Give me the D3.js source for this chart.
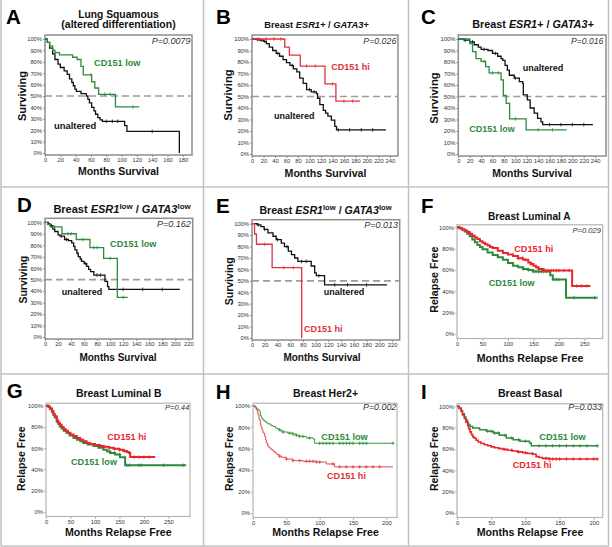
<!DOCTYPE html>
<html><head><meta charset="utf-8">
<script src="https://cdn.jsdelivr.net/npm/d3@7"></script>
<style>body{margin:0;background:#fff}svg{display:block}</style>
</head><body><svg id="c" width="612" height="547"></svg>
<script>
// ---------- DATA (Kaplan-Meier step points: [months, % surviving]) ----------
const lungUnaltered = [[0,100],[3,97],[6,92],[10,87],[13,82],[17,78],[20,75],[25,72],[29,69],[32,65],[35,62],[37,59],[39,56],[41,54],[47,52],[54,50],[56,47],[58,44],[61,40],[64,37],[66,34],[69,31],[72,29],[75,27.8],[104,24],[107,19],[175.5,0]];
const lungUnalteredCens = [80,88,95,140];
const lungLow = [[0,100],[3,97],[6,94],[10,90],[13,88],[19,86],[36,84],[42,82],[47,76],[50,68.5],[61,62.5],[65,57],[70,51.5],[92,40.5],[123,40.5]];
const lungLowCens = [60,78,85,115];

const erPosUnaltB = [[0,100],[8,99.5],[13,99],[20,98],[25,96],[30,93],[36,90],[42,87.5],[48,85],[54,82],[60,79.5],[66,77],[72,74],[78,71.5],[83,66],[89,61.5],[95,56],[103,54],[112,52.5],[114,48.5],[118,43],[124,38],[128,35.5],[132,33],[138,29.5],[144,24],[147,21],[233,21]];
const erPosUnaltBCens = [10,16,22,45,70,100,108,150,170,190,210];
const erPosHi = [[0,100],[57,93],[65,86],[84,76.5],[127,61],[146,46],[188,46]];
const erPosHiCens = [12,25,38,50,95,110,140,160,175];

const erPosUnaltC = [[0,100],[10,99],[20,97.5],[28,95],[35,93],[40,91],[52,90],[60,87.5],[69,85],[75,83],[78,81.5],[82,77],[86,73],[89.5,68.5],[98,66],[107,63],[113,61.5],[114,51.5],[121,47],[126,40],[133,35.5],[139,31],[145,28],[148,25.5],[236,25.5]];
const erPosUnaltCCens = [12,25,45,65,100,160,180,200,220];
const erPosLow = [[0,100],[20,96],[25,89],[31,83],[40,80.5],[48,76],[54,70.5],[75,64.5],[79,51],[84,44],[90,30.5],[119,21],[190,21]];
const erPosLowCens = [45,60,70,100,140,165];

const erLowUnaltD = [[0,100],[5,98.5],[8,97],[12,94],[15,92],[20,89],[23,88],[30,85],[36,84],[41,82],[44,79],[46,76],[49,73],[51,70],[54,68],[56,66],[60,64],[64,61.5],[67,59],[70,57],[75,54],[92,48.5],[96,44],[98,41.5],[207,41.5]];
const erLowUnaltDCens = [10,25,33,62,80,85,120,150,180];
const erLowLow = [[0,100],[4,98],[8,96],[26,90],[48,85],[69,78],[90,68.5],[111,34.5],[127,34.5]];
const erLowLowCens = [15,35,40,58,75,80,100,120];

const erLowUnaltE = [[0,100],[8,99],[14,97.5],[19,95],[25,92],[33,89],[38,86],[46,83],[51,80],[57,76],[62,73],[67,70],[72,67],[93,63],[98.5,57],[101,54.5],[114,46.5],[212,46.5]];
const erLowUnaltECens = [10,20,40,55,78,85,105,130,150,180];
const erLowHi = [[0,100],[4,91],[7,82],[31.6,61.5],[78,0]];
const erLowHiCens = [20,50,65];

const lumAHi = [[0,100],[5,99],[10,98],[15,97],[20,95.5],[25,94],[30,92],[35,90.5],[40,89],[45,87],[50,85.5],[55,84],[60,83],[65,81.5],[70,80.5],[80,78],[90,76],[100,74.5],[110,73],[120,71],[130,69.5],[140,67],[145,65.5],[150,64],[155,62.5],[160,61],[170,59.5],[226,45],[262,45]];
const lumAHiCens = [120,128,135,145,160,170,175,180,185,190,195,200,210,220,235,245,255];
const lumALow = [[0,100],[5,99],[10,98],[15,96],[20,94],[25,91.5],[30,88.5],[35,86],[40,83.5],[45,81.5],[50,79.5],[60,76.5],[70,74],[80,72],[90,69.5],[100,66.5],[110,64],[120,62.5],[130,61],[140,60],[150,58.5],[183,55],[188,51],[214,34],[276,34]];
const lumALowCens = [130,140,150,155,160,165,170,175,190,195,200,230,270];

const lumBHi = [[0,100],[5,99],[8,97.5],[12,95],[15,92],[18,90],[22,86],[25,84],[28,82],[32,80],[36,78],[40,76.5],[45,74.5],[50,73],[56,71.5],[63,69.5],[70,68],[76,66.5],[83,65],[90,64],[100,63],[110,62],[117,61.5],[128,60.5],[138,59.5],[150,58.5],[158,57.5],[165,56.5],[170,55.5],[172,51.7],[223,51.7]];
const lumBHiCens = [110,120,130,140,150,160,170,180,190,200,210];
const lumBLow = [[0,100],[5,99],[8,97],[12,94],[15,91.5],[18,89],[22,85],[25,83],[28,80.5],[32,78.5],[36,76.5],[42,74.3],[48,72],[56,69.6],[63,68],[70,66.5],[76,65],[85,63.5],[97,62],[107,60.5],[117,58.6],[125,57],[131,55.5],[141,54],[151,51.5],[161.6,44],[286,44]];
const lumBLowCens = [130,140,150,165,170,190,195,240,280];

const her2Low = [[0,100],[3,99],[5,97],[8,96],[10,94.5],[11,91],[12.5,88.5],[15,86.5],[17.5,85.4],[20,84],[22.5,83],[27,81.5],[30,80.7],[34,79],[37.5,77.6],[41,76.5],[45,75.5],[52,74.5],[60,73.6],[65,72.5],[70,71.4],[80,70],[90,69],[92.5,65],[210,65]];
const her2LowCens = [40,45,55,60,65,70,75,85,100,105,110,115,120,130,135,140,145,150,160,165,170,210];
const her2Hi = [[0,100],[3,98],[5,96.3],[6.5,94],[7.5,91.6],[9,87],[11,82.3],[12,80],[13.5,77.6],[15,74.5],[17.5,71.4],[19,68],[20,65.2],[22,62.5],[24,60.6],[27,59],[30,57.5],[33,56],[36,54.4],[39,53],[42.5,51.9],[50,50.3],[60,48.8],[75,48.2],[95,47.5],[110,45.7],[122.5,43],[210,43]];
const her2HiCens = [40,50,60,70,80,85,90,95,100,120,130,140,150,160,170,180,190];

const basalLow = [[0,100],[3,98.5],[6,96],[8,93],[10.7,90],[13,87],[15.6,84],[17,82.5],[19,81],[23,79.6],[33,78],[43,76.6],[53,75],[62,72.8],[72,70.3],[82,68.7],[92,67.2],[106,65.6],[108.6,63],[206,63]];
const basalLowCens = [45,50,55,60,70,80,90,100,120,130,140,150,160,170,180,190,205];
const basalHi = [[0,100],[3,98],[6,95.3],[8,92],[10.7,88.5],[13,85],[15.6,82],[17,79],[19,76],[21,73.5],[23,71.4],[25,70],[28,68.2],[31,66.5],[35,65.2],[40,64],[45,63],[50,62],[55,61.2],[61,60.3],[67,59.6],[74,58.8],[81,58.1],[88,57.3],[96,56.5],[103,55.7],[111,55],[115.6,52.8],[120,52],[125,51.2],[135,50.6],[206,50.6]];
const basalHiCens = [70,80,90,100,110,130,135,140,145,150,160,170,180,190,200,205];

// tick labels
const yTicks10 = [0,10,20,30,40,50,60,70,80,90,100];
const yTicks20 = [0,20,40,60,80,100];
const xTicks180 = [0,20,40,60,80,100,120,140,160,180];
const xTicks240 = [0,20,40,60,80,100,120,140,160,180,200,220,240];
const xTicks220 = [0,20,40,60,80,100,120,140,160,180,200,220];
const xTicks250 = [0,50,100,150,200,250];
const xTicks200 = [0,50,100,150,200];

// ---------- DRAWING ----------
const FONT = '"Liberation Sans", Arial, Helvetica, sans-serif';
const GREEN = '#2f8a3c', RED = '#e0323a', BLACK = '#111';
const svg = d3.select('#c').attr('font-family', FONT);
svg.append('rect').attr('width',612).attr('height',547).attr('fill','#fff');

// panel dividers
const gridC = '#c2c2c2';
[1, 203.5, 408.5, 608.5].forEach(v => svg.append('line').attr('x1',v).attr('x2',v).attr('y1',0).attr('y2',546.5).attr('stroke',gridC).attr('stroke-width',1.5));
[187, 374, 546].forEach(v => svg.append('line').attr('x1',1).attr('x2',608.5).attr('y1',v).attr('y2',v).attr('stroke',gridC).attr('stroke-width',1.5));

function stepAt(pts, t){ let v = pts[0][1]; for (const p of pts){ if (p[0] <= t) v = p[1]; else break; } return v; }

function drawPanel(c){
  const x = d3.scaleLinear().domain([0, c.xmax]).range([c.x0, c.x1]);
  const y = d3.scaleLinear().domain([0, 100]).range([c.y0, c.y100]);
  const g = svg.append('g');
  const top = c.y100 - c.padTop, bot = c.y0 + c.padBot;
  // frame
  g.append('rect').attr('x', c.x0).attr('y', top).attr('width', c.x1 - c.x0).attr('height', bot - top)
    .attr('fill','none').attr('stroke', c.frame).attr('stroke-width', c.frameW);
  // axes
  const ya = d3.axisLeft(y).tickValues(c.yticks).tickFormat(d => d + '%').tickSize(c.tick).tickPadding(c.tpad);
  const yg = g.append('g').attr('transform', `translate(${c.x0},0)`).call(ya);
  yg.select('.domain').remove();
  yg.attr('font-family', FONT).attr('font-size', c.tfs);
  yg.selectAll('line').attr('stroke', c.frame);
  yg.selectAll('text').attr('fill', '#333');
  const xa = d3.axisBottom(x).tickValues(c.xticks).tickSize(c.tick).tickPadding(c.tpad);
  const xg = g.append('g').attr('transform', `translate(0,${bot})`).call(xa);
  xg.select('.domain').remove();
  xg.attr('font-family', FONT).attr('font-size', c.tfs);
  xg.selectAll('line').attr('stroke', c.frame);
  xg.selectAll('text').attr('fill', '#333');
  // median line
  if (c.median) g.append('line').attr('x1', c.x0).attr('x2', c.x1).attr('y1', y(50)).attr('y2', y(50))
    .attr('stroke', '#9c9c9c').attr('stroke-width', 1.6).attr('stroke-dasharray', '7,4');
  // curves
  const line = d3.line().x(d => x(d[0])).y(d => y(d[1])).curve(d3.curveStepAfter);
  c.series.forEach(s => {
    g.append('path').datum(s.pts).attr('d', line).attr('fill','none').attr('stroke', s.color).attr('stroke-width', s.w);
    s.cens.forEach(t => {
      const cx = x(t), cy = y(stepAt(s.pts, t));
      if (c.plus) g.append('path').attr('d', `M${cx-1.7},${cy}h3.4M${cx},${cy-1.7}v3.4`).attr('stroke', s.color).attr('stroke-width', 0.9);
      else g.append('line').attr('x1', cx).attr('x2', cx).attr('y1', cy - 1.8).attr('y2', cy + 1.8).attr('stroke', s.color).attr('stroke-width', 0.8);
    });
  });
  // panel letter
  svg.append('text').attr('x', c.letter[1]).attr('y', c.letter[2]).text(c.letter[0])
    .attr('font-size', 20.5).attr('font-weight', 'bold').attr('fill', '#000');
  // title
  c.title.forEach(tl => {
    const t = svg.append('text').attr('x', tl.x).attr('y', tl.y).attr('text-anchor','middle')
      .attr('font-size', tl.fs).attr('font-weight','bold').attr('fill','#111');
    tl.parts.forEach(p => {
      const sp = t.append('tspan').text(p.t);
      if (p.i) sp.attr('font-style','italic');
      if (p.sup) sp.attr('font-size', tl.fs * 0.72).attr('dy', -tl.fs * 0.38);
      if (p.down) sp.attr('dy', tl.fs * 0.38);
    });
  });
  // p value
  svg.append('text').attr('x', c.p[1]).attr('y', c.p[2]).attr('text-anchor','end').text(c.p[0])
    .attr('font-size', c.p[3]).attr('font-style','italic').attr('fill','#333');
  // axis labels
  svg.append('text').attr('x', c.xl[1]).attr('y', c.xl[2]).attr('text-anchor','middle').text(c.xl[0])
    .attr('font-size', c.xl[3]).attr('font-weight','bold').attr('fill','#111');
  svg.append('text').attr('transform', `translate(${c.yl[1]},${c.yl[2]}) rotate(-90)`).attr('text-anchor','middle')
    .attr('dy','0.36em').text(c.yl[0]).attr('font-size', c.yl[3]).attr('font-weight','bold').attr('fill','#111');
  // curve labels
  c.labels.forEach(l => svg.append('text').attr('x', l[1]).attr('y', l[2]).text(l[0])
    .attr('font-size', l[4]).attr('font-weight','bold').attr('fill', l[3]));
}

const baseAE = {yticks: yTicks10, tick: 2, tpad: 1, tfs: 5.8, frame: '#8e8e8e', frameW: 1.5, padTop: 4, padBot: 2, median: true, plus: false};
const baseFI = {yticks: yTicks20, tick: 2.5, tpad: 0.6, tfs: 5.8, frame: '#b4b4b4', frameW: 1.2, padTop: 2.5, padBot: 4.5, median: false, plus: true};
const esrPos = () => [{t:'Breast '},{t:'ESR1+', i:true},{t:' / '},{t:'GATA3+', i:true}];
const esrLow = [{t:'Breast '},{t:'ESR1', i:true},{t:'low', sup:true},{t:' / ', down:true},{t:'GATA3', i:true},{t:'low', sup:true}];

const panels = [
  Object.assign({}, baseAE, {x0:45, x1:192, xmax:192, y100:39, y0:153, xticks:xTicks180, letter:['A',6,24],
    title:[{x:118.5,y:17.6,fs:10.3,parts:[{t:'Lung Squamous'}]},{x:118.5,y:28.3,fs:10.5,parts:[{t:'(altered differentiation)'}]}],
    p:['P=0.0079',190.5,44,9], xl:['Months Survival',118.5,175,10.5], yl:['Surviving',21.7,96,11],
    series:[{pts:lungUnaltered,cens:lungUnalteredCens,color:BLACK,w:1.3},{pts:lungLow,cens:lungLowCens,color:GREEN,w:1.3}],
    labels:[['CD151 low',94,66,GREEN,9.2],['unaltered',54,128.7,BLACK,9.4]]}),
  Object.assign({}, baseAE, {x0:252, x1:398, xmax:254, y100:39, y0:154, xticks:xTicks240, letter:['B',216,24],
    title:[{x:316.5,y:28.3,fs:9.3,parts:esrPos()}],
    p:['P=0.026',396.3,44,8.8], xl:['Months Survival',325.5,176.7,10.6], yl:['Surviving',228,95,11.3],
    series:[{pts:erPosUnaltB,cens:erPosUnaltBCens,color:BLACK,w:1.3},{pts:erPosHi,cens:erPosHiCens,color:RED,w:1.3}],
    labels:[['CD151 hi',331.3,70,RED,9],['unaltered',274,119,BLACK,9]]}),
  Object.assign({}, baseAE, {x0:458.3, x1:606, xmax:259, y100:39, y0:154, xticks:xTicks240, letter:['C',421,24.3],
    title:[{x:533,y:28.3,fs:10.8,parts:esrPos()}],
    p:['P=0.016',603.3,44,8.6], xl:['Months Survival',532,176.7,10.3], yl:['Surviving',434.3,98,11.3],
    series:[{pts:erPosUnaltC,cens:erPosUnaltCCens,color:BLACK,w:1.3},{pts:erPosLow,cens:erPosLowCens,color:GREEN,w:1.3}],
    labels:[['unaltered',522.7,71,BLACK,9],['CD151 low',469.3,132.3,GREEN,9]]}),
  Object.assign({}, baseAE, {x0:45, x1:192.7, xmax:226.7, y100:222.3, y0:337, xticks:xTicks220, letter:['D',17,212.3],
    title:[{x:122,y:213,fs:11,parts:esrLow}],
    p:['P=0.162',190.7,226.8,9], xl:['Months Survival',118,361,10], yl:['Surviving',23.3,279.7,10.5],
    series:[{pts:erLowUnaltD,cens:erLowUnaltDCens,color:BLACK,w:1.3},{pts:erLowLow,cens:erLowLowCens,color:GREEN,w:1.3}],
    labels:[['CD151 low',110,247.3,GREEN,9.2],['unaltered',61.7,294.7,BLACK,9]]}),
  Object.assign({}, baseAE, {x0:252, x1:399.7, xmax:232, y100:223.7, y0:338, xticks:xTicks220, letter:['E',216,213],
    title:[{x:325.5,y:214,fs:10.6,parts:esrLow}],
    p:['P=0.013',398,228,9], xl:['Months Survival',322,361,10], yl:['Surviving',229.7,281.3,10.5],
    series:[{pts:erLowUnaltE,cens:erLowUnaltECens,color:BLACK,w:1.3},{pts:erLowHi,cens:erLowHiCens,color:RED,w:1.3}],
    labels:[['CD151 hi',304,332,RED,9],['unaltered',323.7,295.3,BLACK,9]]}),
  Object.assign({}, baseFI, {x0:457, x1:602.7, xmax:286, y100:227.3, y0:334, xticks:xTicks250, letter:['F',421,213],
    title:[{x:529.3,y:219.7,fs:10.1,parts:[{t:'Breast Luminal A'}]}],
    p:['P=0.029',601,232.5,7.6], xl:['Months Relapse Free',530,361.5,10.6], yl:['Relapse Free',434.3,279.7,10.6],
    series:[{pts:lumALow,cens:lumALowCens,color:'#2e8a3c',w:2},{pts:lumAHi,cens:lumAHiCens,color:'#e8262c',w:2}],
    labels:[['CD151 hi',514.3,252,'#e8262c',9.1],['CD151 low',488.7,285.7,'#2e8a3c',9.1]]}),
  Object.assign({}, baseFI, {x0:46, x1:190, xmax:294, y100:405.7, y0:512, xticks:xTicks250, letter:['G',6.7,398],
    title:[{x:118.7,y:397.3,fs:10.4,parts:[{t:'Breast Luminal B'}]}],
    p:['P=0.44',189.3,410,7.6], xl:['Months Relapse Free',118.3,536,10.6], yl:['Relapse Free',21.7,458.7,10.4],
    series:[{pts:lumBLow,cens:lumBLowCens,color:'#2e8a3c',w:2},{pts:lumBHi,cens:lumBHiCens,color:'#e8262c',w:2}],
    labels:[['CD151 hi',107.3,440.3,'#e8262c',9.1],['CD151 low',71,465.3,'#2e8a3c',9.1]]}),
  Object.assign({}, baseFI, {x0:253, x1:397, xmax:216, y100:405.7, y0:513, xticks:xTicks200, letter:['H',215.7,398.7],
    title:[{x:325.5,y:397.3,fs:10.5,parts:[{t:'Breast Her2+'}]}],
    p:['P=0.002',396.3,410,8.9], xl:['Months Relapse Free',325.5,536,10.6], yl:['Relapse Free',229.7,458.7,10.4],
    series:[{pts:her2Low,cens:her2LowCens,color:'#3a983e',w:1},{pts:her2Hi,cens:her2HiCens,color:'#e04a4a',w:1}],
    labels:[['CD151 low',321.3,439.7,'#2e8a3c',9.2],['CD151 hi',327,478.7,'#e0323a',9.1]]}),
  Object.assign({}, baseFI, {x0:457, x1:602.7, xmax:213, y100:406.3, y0:513, xticks:xTicks200, letter:['I',421,398.7],
    title:[{x:530,y:397.3,fs:10.6,parts:[{t:'Breast Basal'}]}],
    p:['P=0.033',602,410,9], xl:['Months Relapse Free',530,536.3,10.6], yl:['Relapse Free',434.3,458.7,10.4],
    series:[{pts:basalLow,cens:basalLowCens,color:'#2e8a3c',w:1.5},{pts:basalHi,cens:basalHiCens,color:'#e8262c',w:1.6}],
    labels:[['CD151 low',539.3,439.7,'#2e8a3c',9.2],['CD151 hi',512.7,468,'#e8262c',9.1]]})
];
panels.forEach(drawPanel);
</script></body></html>
